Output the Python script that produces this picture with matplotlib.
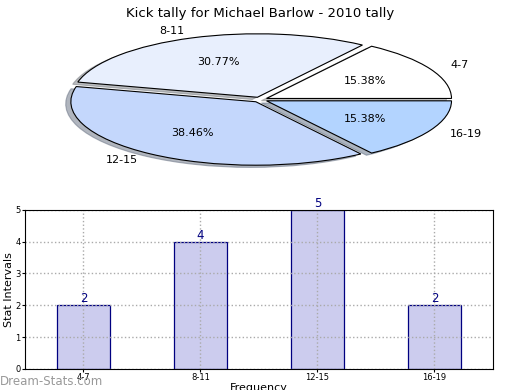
import matplotlib
matplotlib.use("Agg")
import matplotlib.pyplot as plt
import numpy as np

title = "Kick tally for Michael Barlow - 2010 tally"
intervals = ["4-7", "8-11", "12-15", "16-19"]
counts = [2, 4, 5, 2]
pie_colors = ["#ffffff", "#e8effd", "#c4d7fc", "#b3d4ff"]

fig = plt.figure(figsize=(5.2, 3.9), dpi=100)

# pie, squashed (aspect not equal)
ax1 = fig.add_axes([0.123, 0.572, 0.754, 0.345])
wedges, texts, autotexts = ax1.pie(counts, labels=intervals, colors=pie_colors,
                                   explode=[0.04] * 4,
                                   shadow=dict(ox=-0.02, oy=-0.025, shade=0.5),
                                   autopct="%.2f%%", pctdistance=0.6, labeldistance=1.12,
                                   wedgeprops=dict(edgecolor="black", linewidth=0.8),
                                   textprops=dict(fontsize=8))
ax1.set_aspect("auto")
ax1.set_xlim(-1.06, 1.06)
ax1.set_ylim(-1.06, 1.06)
ax1.set_title(title, fontsize=9.5, pad=11)

# bar chart
ax2 = fig.add_axes([0.048, 0.054, 0.9, 0.408])
x = np.arange(len(intervals))
ax2.bar(x, counts, width=0.45, color="#ccccee", edgecolor="navy", linewidth=0.9, zorder=2)
for xi, c in zip(x, counts):
    ax2.text(xi, c, str(c), ha="center", va="bottom", color="navy", fontsize=8.5)
ax2.set_xlim(-0.5, 3.5)
ax2.set_ylim(0, 5)
ax2.set_xticks(x)
ax2.set_xticklabels(intervals)
ax2.tick_params(labelsize=6, length=2, pad=1)
ax2.grid(True, linestyle=":", color="#aaaaaa", linewidth=1)
ax2.set_axisbelow(False)
for s in ax2.spines.values():
    s.set_zorder(5)
ax2.set_ylabel("Stat Intervals", fontsize=8, labelpad=1)
ax2.set_xlabel("Frequency", fontsize=8, labelpad=1)

fig.text(0.0, 0.012, "Dream-Stats.com", color="#999999", fontsize=8.5)

fig.savefig("out.png", dpi=100)
